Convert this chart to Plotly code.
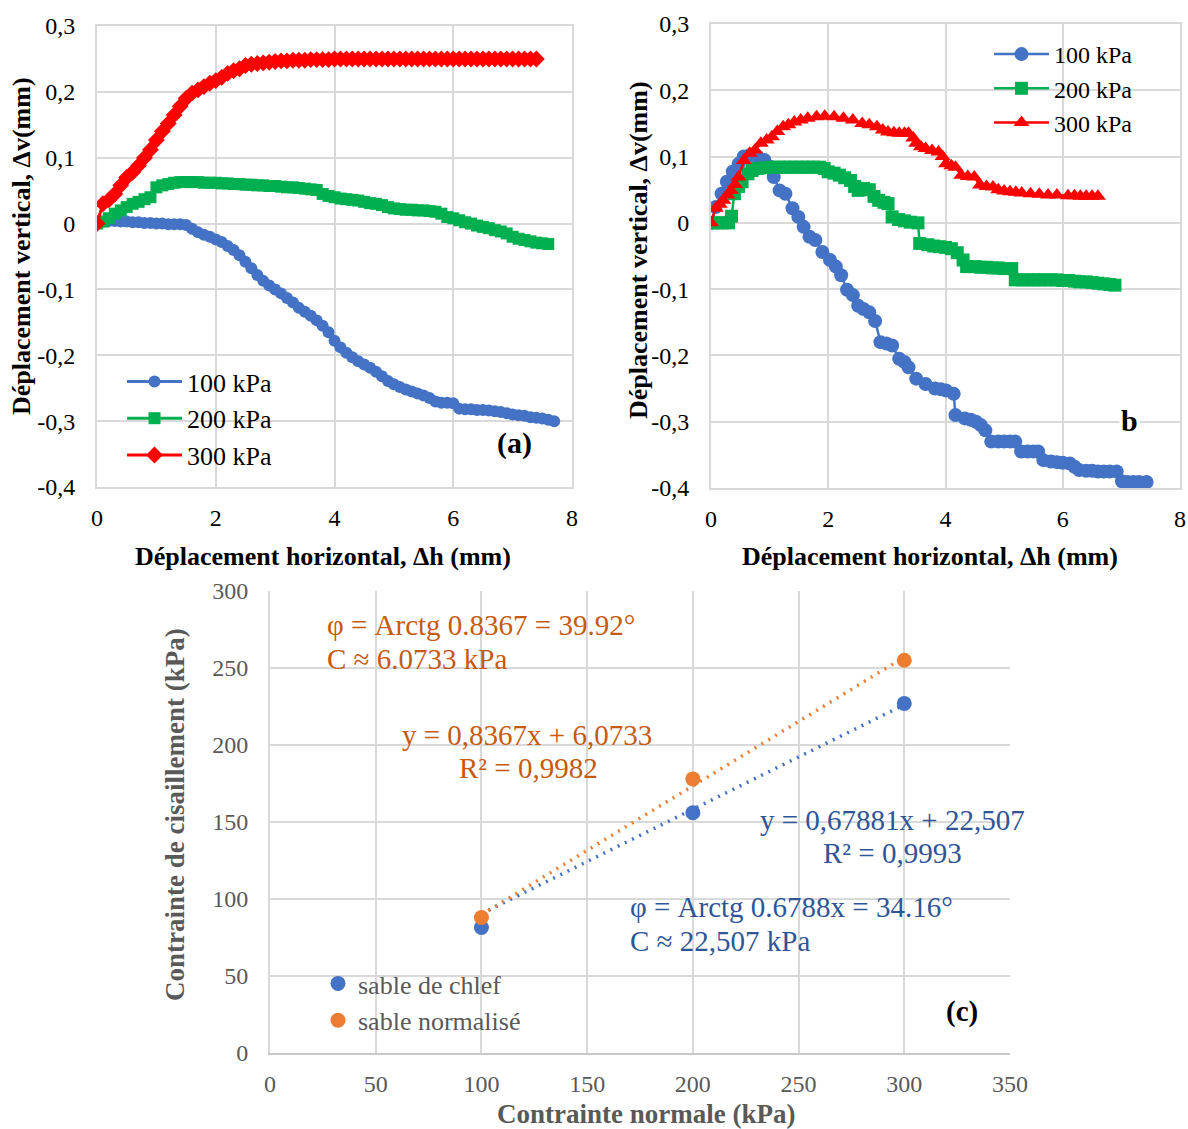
import plotly.graph_objects as go

W, H = 1188, 1129
FONT = "Liberation Serif"

# ---------------- Panel (a) data ----------------
a_x = [0, 0.1, 0.2, 0.3, 0.4, 0.5, 0.6, 0.7, 0.8, 0.9,
       1.0, 1.1, 1.2, 1.3, 1.4, 1.5, 1.6, 1.7, 1.8, 1.9,
       2.0, 2.1, 2.2, 2.3, 2.4, 2.5, 2.6, 2.7, 2.8, 2.9,
       3.0, 3.1, 3.2, 3.3, 3.4, 3.5, 3.6, 3.7, 3.8, 3.9,
       4.0, 4.1, 4.2, 4.3, 4.4, 4.5, 4.6, 4.7, 4.8, 4.9,
       5.0, 5.1, 5.2, 5.3, 5.4, 5.5, 5.6, 5.7, 5.8, 5.9,
       6.0, 6.1, 6.2, 6.3, 6.4, 6.5, 6.6, 6.7, 6.8, 6.9,
       7.0, 7.1, 7.2, 7.3, 7.4, 7.5, 7.6, 7.7]
a_y100 = [0, 0.003, 0.004, 0.004, 0.003, 0.003, 0.002, 0.002, 0.001, 0.001,
          0.0, 0.0, -0.001, -0.001, -0.001, -0.002, -0.008, -0.013, -0.017, -0.02,
          -0.024, -0.028, -0.034, -0.04, -0.048, -0.058, -0.068, -0.078, -0.087, -0.094,
          -0.1, -0.106, -0.113, -0.12, -0.128, -0.134, -0.14, -0.147, -0.155, -0.165,
          -0.178, -0.188, -0.196, -0.203, -0.209, -0.214, -0.219, -0.225, -0.232, -0.239,
          -0.244, -0.248, -0.252, -0.255, -0.258, -0.261, -0.265, -0.27, -0.272, -0.272,
          -0.273, -0.281, -0.282, -0.282, -0.283, -0.283, -0.284, -0.285, -0.286, -0.288,
          -0.29, -0.291, -0.292, -0.294, -0.295, -0.296, -0.298, -0.3]
a_y200 = [0, 0.003, 0.008, 0.015, 0.02, 0.025, 0.03, 0.033, 0.037, 0.04,
          0.055, 0.058, 0.06, 0.062, 0.063, 0.063, 0.063, 0.063, 0.062, 0.062,
          0.062, 0.061, 0.061, 0.06, 0.06, 0.059, 0.059, 0.058, 0.058, 0.057,
          0.057, 0.056, 0.055, 0.055, 0.054, 0.053, 0.052, 0.051, 0.045, 0.042,
          0.04, 0.038, 0.037, 0.036, 0.035, 0.033, 0.031, 0.03, 0.028, 0.025,
          0.023, 0.022, 0.021, 0.021, 0.02, 0.02, 0.019, 0.018, 0.015, 0.01,
          0.008, 0.005, 0.002, 0.0, -0.003, -0.005, -0.007, -0.01, -0.012, -0.015,
          -0.02, -0.023, -0.025, -0.027, -0.029, -0.03, -0.031]
a_y300 = [0, 0.03, 0.036, 0.045, 0.058, 0.07, 0.078, 0.088, 0.1, 0.112,
          0.127, 0.14, 0.152, 0.165, 0.178, 0.19, 0.198, 0.203, 0.208, 0.213,
          0.217, 0.222, 0.228, 0.232, 0.235, 0.24, 0.242, 0.243, 0.244, 0.245,
          0.246, 0.247, 0.247, 0.248, 0.248, 0.248, 0.249, 0.249, 0.249, 0.249,
          0.25, 0.25, 0.25, 0.25, 0.25, 0.25, 0.25, 0.25, 0.25, 0.25,
          0.25, 0.25, 0.25, 0.25, 0.25, 0.25, 0.25, 0.25, 0.25, 0.25,
          0.25, 0.25, 0.25, 0.25, 0.25, 0.25, 0.25, 0.25, 0.25, 0.25,
          0.25, 0.25, 0.25, 0.25, 0.25]

# ---------------- Panel (b) data ----------------
b_x100 = [0, 0.08, 0.18, 0.27, 0.37, 0.47, 0.56, 0.66, 0.79, 0.91, 1.0, 1.07, 1.17, 1.27,
          1.39, 1.49, 1.58, 1.68, 1.78, 1.9, 2.03, 2.13, 2.22, 2.32, 2.42, 2.51, 2.6, 2.7,
          2.8, 2.89, 2.99, 3.09, 3.21, 3.3, 3.37, 3.5, 3.66, 3.82, 3.92, 4.01, 4.14, 4.17,
          4.33, 4.43, 4.52, 4.6, 4.68, 4.78, 4.9, 5.0, 5.1, 5.19, 5.29, 5.4, 5.5, 5.58,
          5.67, 5.8, 5.9, 6.0, 6.12, 6.2, 6.28, 6.4, 6.5, 6.6, 6.7, 6.8, 6.92, 7.01, 7.1,
          7.2, 7.3, 7.43]
b_y100 = [0, 0.024, 0.044, 0.062, 0.077, 0.089, 0.1, 0.102, 0.1, 0.095, 0.085, 0.069, 0.049, 0.044,
          0.022, 0.009, -0.006, -0.021, -0.026, -0.044, -0.056, -0.066, -0.079, -0.101, -0.109, -0.125, -0.13, -0.135,
          -0.148, -0.18, -0.182, -0.185, -0.205, -0.21, -0.218, -0.235, -0.243, -0.25, -0.251, -0.253, -0.258, -0.29,
          -0.295, -0.297, -0.3, -0.305, -0.313, -0.33, -0.33, -0.33, -0.33, -0.33, -0.345, -0.345, -0.345, -0.345,
          -0.358, -0.36, -0.361, -0.362, -0.363, -0.368, -0.373, -0.374, -0.374, -0.375, -0.375, -0.375, -0.375, -0.39, -0.391,
          -0.391, -0.391, -0.391]
b_x200 = [0, 0.1, 0.2, 0.3, 0.35, 0.4, 0.47, 0.53, 0.63, 0.7, 0.79, 0.9, 1.04, 1.15, 1.25,
          1.35, 1.45, 1.55, 1.65, 1.75, 1.85, 1.93, 2.0, 2.1, 2.19, 2.28, 2.38, 2.45, 2.51,
          2.6, 2.7, 2.78, 2.86, 2.95, 3.02, 3.09, 3.2, 3.3, 3.4, 3.53, 3.56, 3.7, 3.8, 3.9,
          4.0, 4.1, 4.2, 4.3, 4.36, 4.5, 4.6, 4.7, 4.8, 4.9, 5.0, 5.13, 5.19, 5.3, 5.4, 5.5,
          5.6, 5.7, 5.8, 5.9, 6.0, 6.1, 6.2, 6.28, 6.4, 6.5, 6.6, 6.7, 6.8, 6.89]
b_y200 = [0, 0, 0, 0, 0.01, 0.044, 0.055, 0.062, 0.074, 0.079, 0.082, 0.083, 0.084, 0.084, 0.084,
          0.084, 0.084, 0.084, 0.084, 0.084, 0.084, 0.082, 0.077, 0.075, 0.072, 0.068, 0.064, 0.055, 0.049,
          0.052, 0.05, 0.04, 0.034, 0.031, 0.029, 0.009, 0.005, 0.003, 0.001, 0.0, -0.031, -0.033, -0.035, -0.036,
          -0.037, -0.039, -0.045, -0.056, -0.066, -0.066, -0.067, -0.067, -0.068, -0.068, -0.069, -0.069, -0.086, -0.086, -0.086, -0.086,
          -0.086, -0.086, -0.086, -0.086, -0.087, -0.087, -0.088, -0.089, -0.089, -0.09, -0.091, -0.092, -0.093, -0.094]
b_x300 = [0, 0.08, 0.15, 0.21, 0.28, 0.34, 0.41, 0.47, 0.56, 0.66, 0.75, 0.85, 0.95, 1.04, 1.13,
          1.23, 1.32, 1.42, 1.53, 1.65, 1.8, 1.94, 2.1, 2.26, 2.42, 2.58, 2.7, 2.83, 2.93, 3.02,
          3.12, 3.21, 3.3, 3.37, 3.45, 3.5, 3.58, 3.66, 3.77, 3.88, 3.95, 4.01, 4.1, 4.17, 4.27,
          4.38, 4.49, 4.59, 4.7, 4.81, 4.9, 5.0, 5.1, 5.2, 5.3, 5.45, 5.6, 5.75, 5.9, 6.09,
          6.2, 6.3, 6.4, 6.5, 6.6]
b_y300 = [0, 0.022, 0.028, 0.034, 0.042, 0.049, 0.058, 0.069, 0.094, 0.105, 0.11, 0.12, 0.125, 0.13, 0.138,
          0.145, 0.148, 0.152, 0.155, 0.158, 0.16, 0.161, 0.16, 0.158, 0.155, 0.15, 0.148, 0.145, 0.14, 0.137,
          0.136, 0.135, 0.135, 0.135, 0.128, 0.12, 0.115, 0.112, 0.109, 0.107, 0.1, 0.089, 0.086, 0.084, 0.072,
          0.07, 0.069, 0.057, 0.055, 0.054, 0.05, 0.048, 0.047, 0.046, 0.045, 0.044, 0.043, 0.042, 0.042, 0.041,
          0.041, 0.04, 0.04, 0.04, 0.04]

# ---------------- Panel (c) data ----------------
c_sigma = [100, 200, 300]
c_tau_chlef = [81.5, 156, 227]
c_tau_norm = [88, 178, 255]
slope_chlef, icpt_chlef = 0.67881, 22.507
slope_norm, icpt_norm = 0.8367, 6.0733

ab_yticks = [-0.4, -0.3, -0.2, -0.1, 0, 0.1, 0.2, 0.3]
ab_yticktext = ["-0,4", "-0,3", "-0,2", "-0,1", "0", "0,1", "0,2", "0,3"]
ab_xticks = [0, 2, 4, 6, 8]
c_xticks = [0, 50, 100, 150, 200, 250, 300, 350]
c_yticks = [0, 50, 100, 150, 200, 250, 300]
series_names = ["100 kPa", "200 kPa", "300 kPa"]
c_names = ["sable de chlef", "sable normalisé"]

BLUE, GREEN, RED = "#4472C4", "#00B050", "#FF0000"
ORANGE = "#ED7D31"
ORANGE_TXT, BLUE_TXT = "#C55A11", "#2F5597"
GRID = "#d9d9d9"
GRAYTXT = "#595959"


def px(x):
    return x / W


def py(y):
    return 1 - y / H


fig = go.Figure()

# panel (a)
for xs, ys, col, sym, nm, sz in [
    (a_x[:len(a_y100)], a_y100, BLUE, "circle", series_names[0], 12),
    (a_x[:len(a_y200)], a_y200, GREEN, "square", series_names[1], 12),
    (a_x[:len(a_y300)], a_y300, RED, "diamond", series_names[2], 13),
]:
    fig.add_trace(go.Scatter(x=xs, y=ys, mode="lines+markers", name=nm,
                             line=dict(color=col, width=3),
                             marker=dict(color=col, symbol=sym, size=sz),
                             xaxis="x", yaxis="y", legend="legend"))

# panel (b)
for xs, ys, col, sym, nm, sz in [
    (b_x100, b_y100, BLUE, "circle", series_names[0], 14),
    (b_x200, b_y200, GREEN, "square", series_names[1], 13),
    (b_x300, b_y300, RED, "triangle-up", series_names[2], 14),
]:
    fig.add_trace(go.Scatter(x=xs, y=ys, mode="lines+markers", name=nm,
                             line=dict(color=col, width=2.5),
                             marker=dict(color=col, symbol=sym, size=sz),
                             xaxis="x2", yaxis="y2", legend="legend2"))

# panel (c) trend lines
tx = [c_sigma[0], c_sigma[-1]]
fig.add_trace(go.Scatter(x=tx, y=[slope_chlef * v + icpt_chlef for v in tx], mode="lines",
                         line=dict(color=BLUE, width=3.5, dash="2px,6px"), showlegend=False,
                         xaxis="x3", yaxis="y3"))
fig.add_trace(go.Scatter(x=tx, y=[slope_norm * v + icpt_norm for v in tx], mode="lines",
                         line=dict(color=ORANGE, width=3.5, dash="2px,6px"), showlegend=False,
                         xaxis="x3", yaxis="y3"))
fig.add_trace(go.Scatter(x=c_sigma, y=c_tau_chlef, mode="markers", name=c_names[0],
                         marker=dict(color=BLUE, size=15), xaxis="x3", yaxis="y3", legend="legend3"))
fig.add_trace(go.Scatter(x=c_sigma, y=c_tau_norm, mode="markers", name=c_names[1],
                         marker=dict(color=ORANGE, size=15), xaxis="x3", yaxis="y3", legend="legend3"))

tickfont_ab = dict(family=FONT, size=24, color="black")
tickfont_c = dict(family=FONT, size=24, color=GRAYTXT)


def ab_axes(dx, dy, anchor_x, anchor_y):
    xa = dict(domain=dx, anchor=anchor_y, range=[0, 8], tickvals=ab_xticks, showgrid=True,
              gridcolor=GRID, gridwidth=2, showline=True, linecolor=GRID, linewidth=2, mirror=True,
              zeroline=False, ticks="", tickfont=tickfont_ab, ticklabelstandoff=8, automargin=False)
    ya = dict(domain=dy, anchor=anchor_x, range=[-0.4, 0.3], tickvals=ab_yticks, ticktext=ab_yticktext,
              showgrid=True, gridcolor=GRID, gridwidth=2, showline=True, linecolor=GRID, linewidth=2,
              mirror=True, zeroline=False, ticks="", tickfont=tickfont_ab, ticklabelstandoff=15,
              automargin=False)
    return xa, ya


xa1, ya1 = ab_axes([px(97), px(572)], [py(487), py(26)], "x", "y")
xa2, ya2 = ab_axes([px(711), px(1180)], [py(488), py(24)], "x2", "y2")
xa3 = dict(domain=[px(270), px(1010)], anchor="y3", range=[0, 350], tickvals=c_xticks, showgrid=True,
           gridcolor=GRID, gridwidth=2, showline=True, linecolor="#c8c8c8", linewidth=2, zeroline=False,
           ticks="", tickfont=tickfont_c, ticklabelstandoff=8, automargin=False)
ya3 = dict(domain=[py(1053), py(591)], anchor="x3", range=[0, 300], tickvals=c_yticks, showgrid=True,
           gridcolor=GRID, gridwidth=2, showline=True, linecolor=GRID, linewidth=2, zeroline=False,
           ticks="", tickfont=tickfont_c, ticklabelstandoff=15, automargin=False)


def txt(x, y, text, size, color="black", xanchor="center", angle=0, bg=None):
    d = dict(x=px(x), y=py(y), text=text, showarrow=False, xanchor=xanchor, yanchor="middle",
             textangle=angle, font=dict(family=FONT, size=size, color=color),
             xref="paper", yref="paper")
    if bg:
        d["bgcolor"] = bg
    return d


annotations = [
    # axis titles (a)
    txt(323, 556, "<b>Déplacement horizontal, Δh (mm)</b>", 26),
    txt(22, 246, "<b>Déplacement vertical, Δv(mm)</b>", 26, angle=-90),
    # axis titles (b)
    txt(930, 556, "<b>Déplacement horizontal, Δh (mm)</b>", 26),
    txt(638, 250, "<b>Déplacement vertical, Δv(mm)</b>", 26, angle=-90),
    # axis titles (c)
    txt(646, 1114, "<b>Contrainte normale (kPa)</b>", 27, GRAYTXT),
    txt(175, 815, "<b>Contrainte de cisaillement (kPa)</b>", 27, GRAYTXT, angle=-90),
    # panel labels
    txt(514, 443, "<b>(a)</b>", 30),
    txt(1129, 420, "<b>b</b>", 30, bg="white"),
    txt(962, 1011, "<b>(c)</b>", 29),
    # panel (c) text
    txt(325, 625, "φ = Arctg 0.8367 = 39.92°", 29, ORANGE_TXT, xanchor="left"),
    txt(325, 659, "C ≈ 6.0733 kPa", 29, ORANGE_TXT, xanchor="left"),
    txt(527, 735, "y = 0,8367x + 6,0733", 29, ORANGE_TXT),
    txt(528, 768, "R² = 0,9982", 29, ORANGE_TXT),
    txt(892, 820, "y = 0,67881x + 22,507", 29, BLUE_TXT),
    txt(892, 853, "R² = 0,9993", 29, BLUE_TXT),
    txt(628, 907, "φ = Arctg 0.6788x = 34.16°", 29, BLUE_TXT, xanchor="left"),
    txt(628, 941, "C ≈ 22,507 kPa", 29, BLUE_TXT, xanchor="left"),
]

shapes = [
    dict(type="rect", xref="paper", yref="paper", x0=px(298), x1=px(677), y0=py(695), y1=py(596),
         fillcolor="white", line=dict(width=0), layer="between"),
    dict(type="rect", xref="paper", yref="paper", x0=px(607), x1=px(1002), y0=py(983), y1=py(877),
         fillcolor="white", line=dict(width=0), layer="between"),
]

fig.update_layout(
    width=W, height=H, margin=dict(l=0, r=0, t=0, b=0, autoexpand=False),
    paper_bgcolor="white", plot_bgcolor="white",
    font=dict(family=FONT),
    xaxis=xa1, yaxis=ya1, xaxis2=xa2, yaxis2=ya2, xaxis3=xa3, yaxis3=ya3,
    legend=dict(x=px(122), y=py(358), xanchor="left", yanchor="top", bgcolor="rgba(0,0,0,0)",
                font=dict(family=FONT, size=26, color="black"), itemwidth=55),
    legend2=dict(x=px(989), y=py(32), xanchor="left", yanchor="top", bgcolor="rgba(0,0,0,0)",
                 font=dict(family=FONT, size=24, color="black"), itemwidth=55),
    legend3=dict(x=px(318), y=py(960), xanchor="left", yanchor="top", bgcolor="rgba(0,0,0,0)",
                 font=dict(family=FONT, size=26, color=GRAYTXT), itemwidth=30),
    annotations=annotations, shapes=shapes,
)

fig.write_html("out.html", config={"displayModeBar": False},
               post_script="document.body.style.margin='0';document.body.style.overflow='hidden';")
